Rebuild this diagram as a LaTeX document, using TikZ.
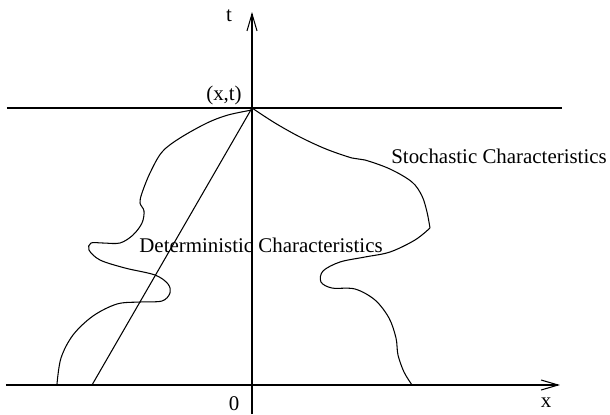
\documentclass[tikz,border=0pt]{standalone}
\usepackage{fontspec}
\setmainfont{Liberation Serif}
\usetikzlibrary{arrows.meta, positioning}
\tikzset{
  axis/.style  = {line width=0.6pt, -{Straight Barb[length=3.4mm, width=2mm, line width=0.6pt]}},
  plain/.style = {line width=0.6pt},
  path/.style  = {line width=0.6pt, smooth, tension=0.55},
  lbl/.style   = {font=\fontsize{11.9}{14}\selectfont, inner sep=0pt},
}

\begin{document}
\begin{tikzpicture}[x=0.02cm, y=-0.02cm]
  \useasboundingbox (0,0) rectangle (610,414);
  % origin and the point (x,t)
  \coordinate (O) at (252,385);
  \coordinate (P) at (252,108);
  \coordinate (xend) at (560,385);
  \coordinate (xstart) at (6,385);
  \coordinate (tend) at (252,12);
  \coordinate (tstart) at (252,414);
  \coordinate (lineL) at (7,108);
  \coordinate (lineR) at (562,108);
  \coordinate (foot) at (92,385);
  % axes
  \draw[axis] (xstart) -- (xend);
  \draw[axis] (tstart) -- (tend);
  \draw[plain] (lineL) -- (lineR);
  % deterministic characteristic
  \draw[plain] (P) -- (foot);
  % stochastic paths
  \draw[path] plot coordinates {(252,110) (228,115) (207,123) (180,138) (162,152)
    (150,173) (142,193) (140,203) (144,211) (142,223) (133,235) (120,243)
    (103,243) (91,243) (89,250) (100,260) (125,268) (155,275) (168,284)
    (170,293) (162,301) (140,302) (117,304) (93,316) (73,335) (61,358) (57,384)};
  \draw[path] plot coordinates {(252,108) (275,123) (300,137) (326,149)
    (352,158) (365,160) (390,169) (412,182) (422,196) (427,212) (430,228)};
  \draw[path] plot coordinates {(430,228) (415,240) (390,252) (365,257)
    (340,262) (323,271) (321,282) (332,288) (355,289) (375,300) (389,318)
    (396,338) (398,355) (404,372) (412,385)};
  % labels
  \node[lbl] (tlbl) at (229,16) {t};
  \node[lbl] (xlbl) at (546,403) {x};
  \node[lbl] (zero) at (234,404) {0};
  \node[lbl] (xt) at (224,95) {(x,t)};
  \node[lbl] (det) at (261,245) {Deterministic Characteristics};
  \node[lbl, anchor=west] (sto) at (391,156) {Stochastic Characteristics};
\end{tikzpicture}
\end{document}
